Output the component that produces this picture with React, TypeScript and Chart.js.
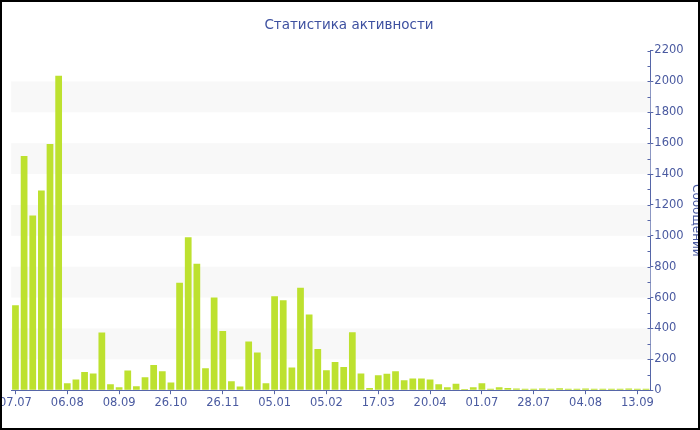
import React, { useEffect, useRef } from "react";
import { Chart, registerables } from "chart.js";

Chart.register(...registerables);

const chartTitle = "Статистика активности";
const yAxisTitle = "Сообщений";
const tickLabels = ["07.07", "06.08", "08.09", "26.10", "26.11", "05.01", "05.02", "17.03", "20.04", "01.07", "28.07", "04.08", "13.09"];
const messages = [
  550, 1517, 1131, 1293, 1595, 2037, 45, 69, 118, 108,
  373, 39, 19, 127, 26, 84, 164, 123, 50, 696,
  991, 819, 142, 601, 384, 58, 24, 315, 244, 45,
  608, 582, 147, 664, 491, 267, 129, 183, 151, 375,
  108, 15, 97, 106, 123, 65, 75, 75, 69, 39,
  19, 41, 8, 19, 45, 10, 19, 15, 11, 10,
  10, 11, 10, 12, 9, 10, 11, 9, 10, 10,
  9, 11, 9, 10,
];
const labelEvery = 6;
const yMax = 2200;
const yStep = 200;
const yMinorStep = 100;

const categories = messages.map((_, i) => (i % labelEvery === 0 ? tickLabels[i / labelEvery] ?? "" : ""));

const TEXT = "#4a5aa0";
const AXIS = "#5666a8";
const FONT = "'DejaVu Sans', Verdana, sans-serif";
const PAGE_W = 700;
const PAGE_H = 430;
const CANVAS_LEFT = -3;
const CANVAS_W = 710;

const bandsPlugin = {
  id: "bands",
  beforeDatasetsDraw(chart: any) {
    const { ctx, chartArea, scales } = chart;
    const y = scales.y;
    ctx.save();
    ctx.fillStyle = "#f8f8f8";
    for (let v = yStep; v < yMax; v += yStep * 2) {
      const top = y.getPixelForValue(v + yStep);
      const bottom = y.getPixelForValue(v);
      ctx.fillRect(chartArea.left, top, chartArea.right - chartArea.left, bottom - top);
    }
    ctx.restore();
  },
};

const minorTicksPlugin = {
  id: "minorTicks",
  afterDraw(chart: any) {
    const { ctx, chartArea, scales } = chart;
    const y = scales.y;
    const x0 = Math.round(chartArea.right) + 0.5;
    ctx.save();
    ctx.strokeStyle = AXIS;
    ctx.lineWidth = 1;
    for (let v = 0; v <= yMax; v += yMinorStep) {
      const py = Math.round(y.getPixelForValue(v)) + 0.5;
      ctx.beginPath();
      ctx.moveTo(x0 - 3, py);
      ctx.lineTo(x0, py);
      ctx.stroke();
    }
    ctx.restore();
  },
};

const pageTitlePlugin = {
  id: "pageTitle",
  afterDraw(chart: any) {
    const { ctx } = chart;
    ctx.save();
    ctx.font = `13.5px ${FONT}`;
    ctx.fillStyle = "#3d50a0";
    ctx.textAlign = "center";
    ctx.textBaseline = "alphabetic";
    ctx.fillText(chartTitle, PAGE_W / 2 - 1 - CANVAS_LEFT, 29);
    ctx.restore();
  },
};

export default function App() {
  const ref = useRef<HTMLCanvasElement | null>(null);

  useEffect(() => {
    document.body.style.margin = "0";
    const canvas = ref.current;
    if (!canvas) return;
    const chart = new Chart(canvas, {
      type: "bar",
      data: {
        labels: categories,
        datasets: [
          {
            label: yAxisTitle,
            data: messages,
            backgroundColor: "#bde12f",
            borderWidth: 0,
            barPercentage: 0.78,
            categoryPercentage: 1,
          },
        ],
      },
      options: {
        responsive: false,
        maintainAspectRatio: false,
        animation: false,
        layout: { padding: { top: 50.5, bottom: 18, left: 0, right: 0 } },
        plugins: {
          legend: { display: false },
          tooltip: { enabled: false },
          title: { display: false },
        },
        scales: {
          x: {
            offset: true,
            grid: {
              display: true,
              drawOnChartArea: false,
              offset: false,
              tickLength: 4,
              tickColor: (c: any) => (c.index % labelEvery === 0 ? AXIS : "rgba(0,0,0,0)"),
            },
            border: { display: true, color: AXIS, width: 1 },
            ticks: {
              autoSkip: false,
              maxRotation: 0,
              minRotation: 0,
              padding: 2,
              color: TEXT,
              font: { family: FONT, size: 11.5 },
            },
          },
          y: {
            position: "right",
            min: 0,
            max: yMax,
            grid: { display: true, drawOnChartArea: false, tickLength: 3, tickColor: AXIS },
            border: { display: true, color: AXIS, width: 1 },
            ticks: {
              stepSize: yStep,
              autoSkip: false,
              padding: 1,
              color: TEXT,
              font: { family: FONT, size: 11.5 },
              callback: (v: any) => String(v),
            },
            title: {
              display: true,
              text: yAxisTitle,
              color: TEXT,
              font: { family: FONT, size: 12 },
              padding: { top: 4, bottom: 4 },
            },
          },
        },
      },
      plugins: [bandsPlugin, minorTicksPlugin, pageTitlePlugin],
    });
    return () => chart.destroy();
  }, []);

  return (
    <div style={{ position: "fixed", left: 0, top: 0, width: PAGE_W, height: PAGE_H, overflow: "hidden", background: "#fff" }}>
      <canvas ref={ref} width={CANVAS_W} height={PAGE_H} style={{ position: "absolute", left: CANVAS_LEFT, top: 0, width: CANVAS_W, height: PAGE_H }} />
      <div style={{ position: "absolute", inset: 0, border: "2px solid #000", boxSizing: "border-box", pointerEvents: "none" }} />
    </div>
  );
}
